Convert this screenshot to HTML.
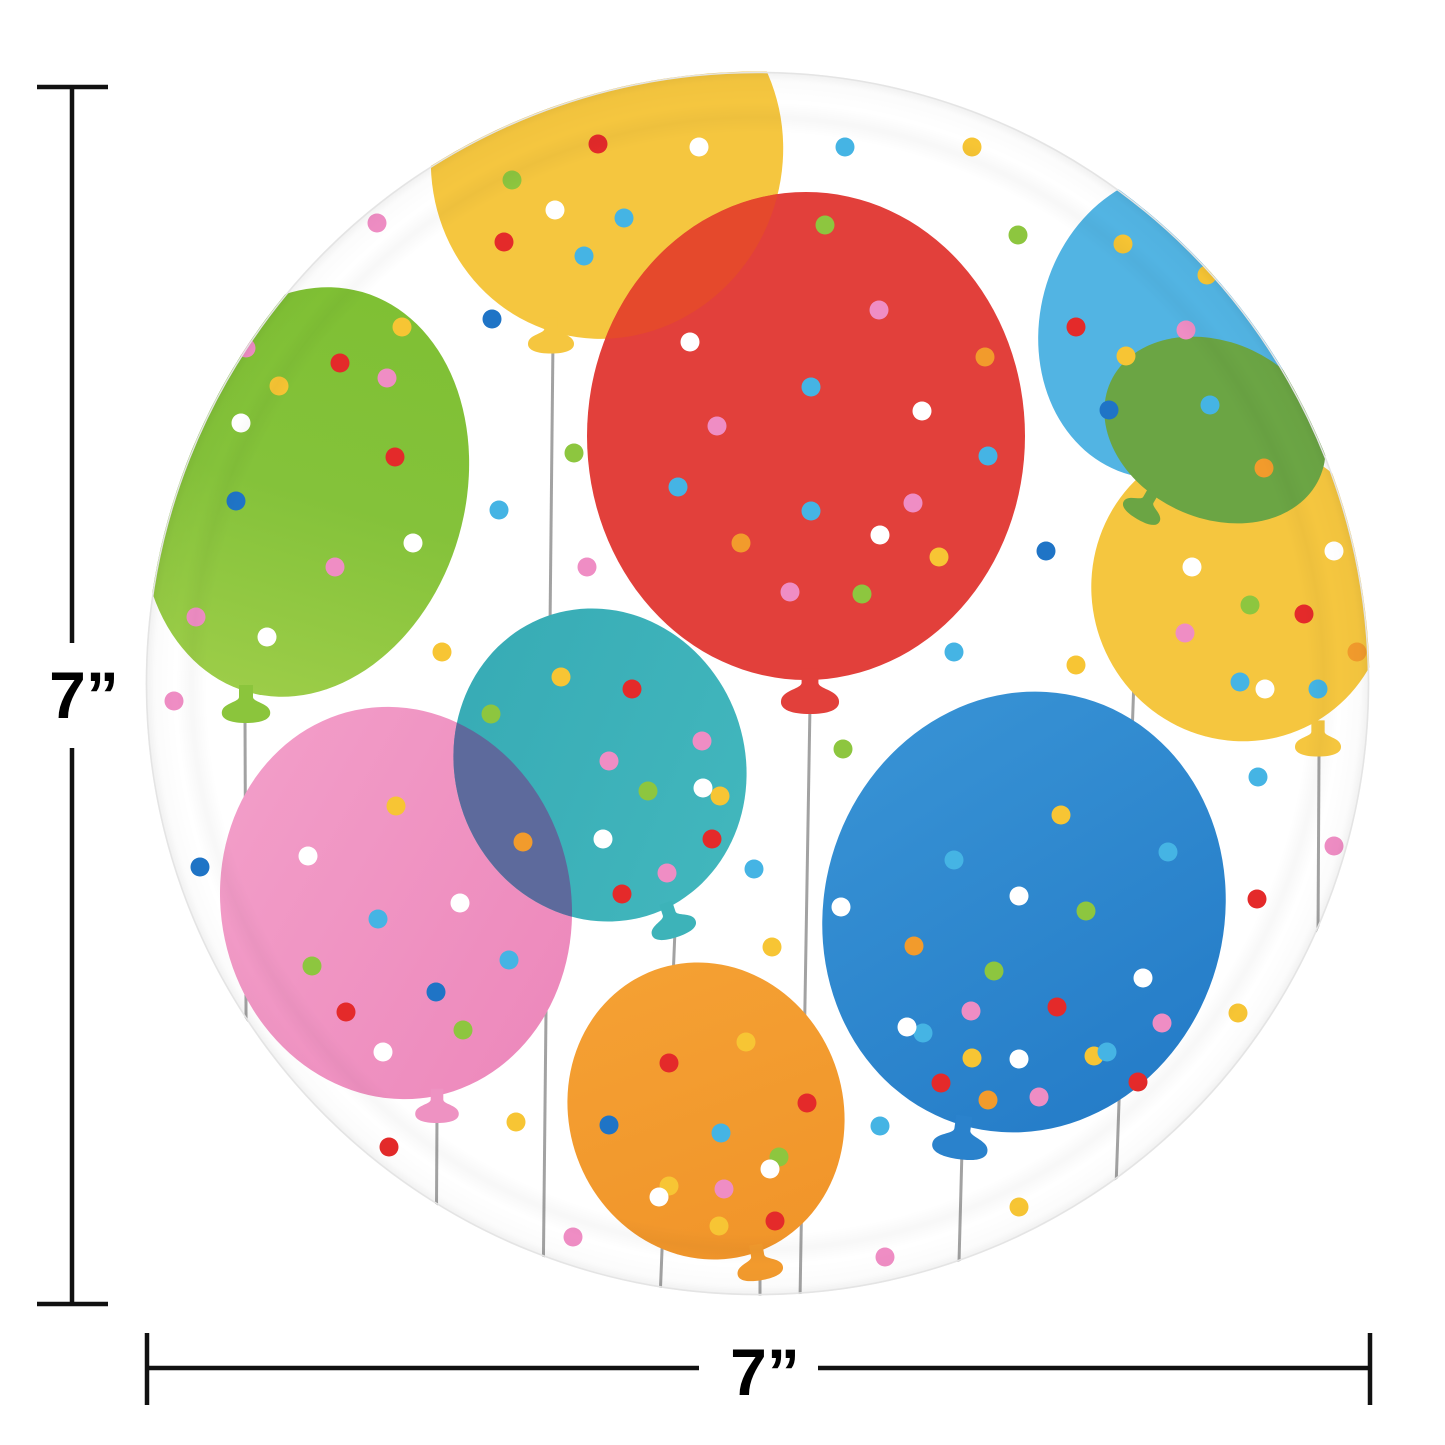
<!DOCTYPE html>
<html><head><meta charset="utf-8"><style>
html,body{margin:0;padding:0;background:#fff;}
svg{display:block;}
</style></head><body>
<svg width="1445" height="1445" viewBox="0 0 1445 1445" xmlns="http://www.w3.org/2000/svg">
<defs>
  <clipPath id="plate"><circle cx="757.5" cy="683.5" r="612"/></clipPath>
  <clipPath id="cY"><ellipse transform="translate(607,155) rotate(20)" rx="175" ry="185"/></clipPath>
  <clipPath id="cT"><ellipse transform="translate(600,765) rotate(-20)" rx="145" ry="158"/></clipPath>
  <path id="K" d="M-7,-8 L7,-8 L7,4 C7,9 22,10 24,18 C26,27 14,30 0,30 C-14,30 -26,27 -24,18 C-22,10 -7,9 -7,4 Z"/>
  <linearGradient id="gGreen" x1="0" y1="0" x2="0" y2="1">
    <stop offset="0" stop-color="#7fc034"/><stop offset="0.5" stop-color="#84c23a"/><stop offset="1" stop-color="#9ccd48"/>
  </linearGradient>
  <linearGradient id="gPink" x1="0" y1="0" x2="1" y2="1">
    <stop offset="0" stop-color="#f3a0ca"/><stop offset="1" stop-color="#ec86ba"/>
  </linearGradient>
  <linearGradient id="gTeal" x1="0" y1="0" x2="1" y2="1">
    <stop offset="0" stop-color="#36aab4"/><stop offset="1" stop-color="#43b8be"/>
  </linearGradient>
  <linearGradient id="gBlue" x1="0" y1="0" x2="1" y2="1">
    <stop offset="0" stop-color="#3a95d6"/><stop offset="1" stop-color="#2279c6"/>
  </linearGradient>
  <linearGradient id="gOrange" x1="0" y1="0" x2="0" y2="1">
    <stop offset="0" stop-color="#f4a033"/><stop offset="1" stop-color="#f1952a"/>
  </linearGradient>
  <radialGradient id="rim" cx="757.5" cy="683.5" r="612" gradientUnits="userSpaceOnUse">
    <stop offset="0" stop-color="#000" stop-opacity="0"/>
    <stop offset="0.9" stop-color="#000" stop-opacity="0"/>
    <stop offset="0.925" stop-color="#000" stop-opacity="0.03"/>
    <stop offset="0.95" stop-color="#000" stop-opacity="0"/>
    <stop offset="0.985" stop-color="#000" stop-opacity="0.015"/>
    <stop offset="1" stop-color="#000" stop-opacity="0.06"/>
  </radialGradient>
</defs>

<!-- Plate -->
<circle cx="757.5" cy="683.5" r="612" fill="#ffffff"/>

<g clip-path="url(#plate)">
  <!-- strings -->
  <g stroke="#a2a2a2" stroke-width="3" fill="none">
    <line x1="553" y1="340" x2="543" y2="1300"/>
    <line x1="245" y1="715" x2="247" y2="1300"/>
    <line x1="437" y1="1115" x2="436" y2="1300"/>
    <line x1="675" y1="930" x2="660" y2="1300"/>
    <line x1="810" y1="705" x2="800" y2="1300"/>
    <line x1="760" y1="1275" x2="760" y2="1300"/>
    <line x1="962" y1="1150" x2="958" y2="1300"/>
    <line x1="1140" y1="510" x2="1112" y2="1300"/>
    <line x1="1319" y1="755" x2="1316" y2="1300"/>
  </g>

  <!-- yellow top -->
  <ellipse transform="translate(607,155) rotate(20)" rx="175" ry="185" fill="#f5c63f"/>
  <use href="#K" transform="translate(551,325) scale(0.95)" fill="#f5c63f"/>
  <!-- red -->
  <ellipse cx="806" cy="436" rx="219" ry="244" fill="#e2403b"/>
  <use href="#K" transform="translate(810,678) scale(1.2)" fill="#e2403b"/>
  <g clip-path="url(#cY)">
    <ellipse cx="806" cy="436" rx="219" ry="244" fill="#e5492c"/>
  </g>
  <!-- light blue top right -->
  <ellipse transform="translate(1170,325) rotate(15)" rx="130" ry="155" fill="#52b4e3"/>
  <!-- yellow right -->
  <ellipse transform="translate(1240,590) rotate(-25)" rx="148" ry="152" fill="#f5c63f"/>
  <use href="#K" transform="translate(1318,728) scale(0.95)" fill="#f5c63f"/>
  <!-- dark green -->
  <ellipse transform="translate(1215,430) rotate(25)" rx="115" ry="88" fill="#6ba544"/>
  <use href="#K" transform="translate(1150,497) rotate(30) scale(0.85)" fill="#6ba544"/>
  <!-- green left -->
  <ellipse transform="translate(305,492) rotate(16)" rx="160" ry="208" fill="url(#gGreen)"/>
  <use href="#K" transform="translate(246,693) scale(1)" fill="#8bc53c"/>
  <!-- pink -->
  <ellipse transform="translate(396,903) rotate(-12)" rx="175" ry="197" fill="url(#gPink)"/>
  <use href="#K" transform="translate(437,1096) scale(0.9)" fill="#ee92c2"/>
  <!-- teal -->
  <ellipse transform="translate(600,765) rotate(-20)" rx="145" ry="158" fill="url(#gTeal)"/>
  <use href="#K" transform="translate(668,910) rotate(-18) scale(0.95)" fill="#3db3b9"/>
  <g clip-path="url(#cT)">
    <ellipse transform="translate(396,903) rotate(-12)" rx="175" ry="197" fill="#5d6a9c"/>
  </g>
  <!-- orange -->
  <ellipse transform="translate(706,1111) rotate(-20)" rx="137" ry="150" fill="url(#gOrange)"/>
  <use href="#K" transform="translate(757,1252) rotate(-10) scale(0.95)" fill="#f29a2d"/>
  <!-- blue -->
  <ellipse transform="translate(1024,912) rotate(16)" rx="200" ry="222" fill="url(#gBlue)"/>
  <use href="#K" transform="translate(963,1125) rotate(8) scale(1.15)" fill="#2a82cc"/>

  <!-- dots -->
  <g>
    <g fill="#e42a2a">
      <circle cx="598" cy="144" r="9.5"/><circle cx="504" cy="242" r="9.5"/>
      <circle cx="1076" cy="327" r="9.5"/><circle cx="1304" cy="614" r="9.5"/>
      <circle cx="340" cy="363" r="9.5"/><circle cx="395" cy="457" r="9.5"/>
      <circle cx="632" cy="689" r="9.5"/><circle cx="712" cy="839" r="9.5"/><circle cx="622" cy="894" r="9.5"/>
      <circle cx="346" cy="1012" r="9.5"/><circle cx="389" cy="1147" r="9.5"/>
      <circle cx="669" cy="1063" r="9.5"/><circle cx="807" cy="1103" r="9.5"/><circle cx="775" cy="1221" r="9.5"/>
      <circle cx="1057" cy="1007" r="9.5"/><circle cx="941" cy="1083" r="9.5"/><circle cx="1138" cy="1082" r="9.5"/>
      <circle cx="1257" cy="899" r="9.5"/>
    </g>
    <g fill="#f7c534">
      <circle cx="972" cy="147" r="9.5"/><circle cx="402" cy="327" r="9.5"/><circle cx="442" cy="652" r="9.5"/>
      <circle cx="1076" cy="665" r="9.5"/><circle cx="772" cy="947" r="9.5"/><circle cx="1238" cy="1013" r="9.5"/>
      <circle cx="516" cy="1122" r="9.5"/><circle cx="1019" cy="1207" r="9.5"/>
      <circle cx="1123" cy="244" r="9.5"/><circle cx="1207" cy="275" r="9.5"/><circle cx="1126" cy="356" r="9.5"/>
      <circle cx="939" cy="557" r="9.5"/><circle cx="279" cy="386" r="9.5"/>
      <circle cx="561" cy="677" r="9.5"/><circle cx="720" cy="796" r="9.5"/>
      <circle cx="396" cy="806" r="9.5"/>
      <circle cx="746" cy="1042" r="9.5"/><circle cx="669" cy="1186" r="9.5"/><circle cx="719" cy="1226" r="9.5"/>
      <circle cx="1061" cy="815" r="9.5"/><circle cx="972" cy="1058" r="9.5"/><circle cx="1094" cy="1056" r="9.5"/>
    </g>
    <g fill="#45b4e4">
      <circle cx="845" cy="147" r="9.5"/><circle cx="499" cy="510" r="9.5"/><circle cx="954" cy="652" r="9.5"/>
      <circle cx="754" cy="869" r="9.5"/><circle cx="1258" cy="777" r="9.5"/><circle cx="880" cy="1126" r="9.5"/>
      <circle cx="624" cy="218" r="9.5"/><circle cx="584" cy="256" r="9.5"/>
      <circle cx="811" cy="387" r="9.5"/><circle cx="988" cy="456" r="9.5"/><circle cx="678" cy="487" r="9.5"/><circle cx="811" cy="511" r="9.5"/>
      <circle cx="1210" cy="405" r="9.5"/>
      <circle cx="1240" cy="682" r="9.5"/><circle cx="1318" cy="689" r="9.5"/>
      <circle cx="378" cy="919" r="9.5"/><circle cx="509" cy="960" r="9.5"/>
      <circle cx="721" cy="1133" r="9.5"/>
      <circle cx="954" cy="860" r="9.5"/><circle cx="1168" cy="852" r="9.5"/><circle cx="923" cy="1033" r="9.5"/><circle cx="1107" cy="1052" r="9.5"/>
    </g>
    <g fill="#ef8dc4">
      <circle cx="377" cy="223" r="9.5"/><circle cx="587" cy="567" r="9.5"/><circle cx="174" cy="701" r="9.5"/>
      <circle cx="1334" cy="846" r="9.5"/><circle cx="573" cy="1237" r="9.5"/><circle cx="885" cy="1257" r="9.5"/>
      <circle cx="879" cy="310" r="9.5"/><circle cx="717" cy="426" r="9.5"/><circle cx="913" cy="503" r="9.5"/><circle cx="790" cy="592" r="9.5"/>
      <circle cx="1186" cy="330" r="9.5"/><circle cx="1185" cy="633" r="9.5"/>
      <circle cx="387" cy="378" r="9.5"/><circle cx="335" cy="567" r="9.5"/><circle cx="196" cy="617" r="9.5"/><circle cx="246" cy="348" r="9.5"/>
      <circle cx="702" cy="741" r="9.5"/><circle cx="609" cy="761" r="9.5"/><circle cx="667" cy="873" r="9.5"/>
      <circle cx="724" cy="1189" r="9.5"/>
      <circle cx="971" cy="1011" r="9.5"/><circle cx="1162" cy="1023" r="9.5"/><circle cx="1039" cy="1097" r="9.5"/>
    </g>
    <g fill="#8dc63f">
      <circle cx="1018" cy="235" r="9.5"/><circle cx="574" cy="453" r="9.5"/><circle cx="843" cy="749" r="9.5"/>
      <circle cx="512" cy="180" r="9.5"/><circle cx="825" cy="225" r="9.5"/><circle cx="862" cy="594" r="9.5"/>
      <circle cx="1250" cy="605" r="9.5"/>
      <circle cx="491" cy="714" r="9.5"/><circle cx="648" cy="791" r="9.5"/>
      <circle cx="312" cy="966" r="9.5"/><circle cx="463" cy="1030" r="9.5"/>
      <circle cx="779" cy="1157" r="9.5"/>
      <circle cx="1086" cy="911" r="9.5"/><circle cx="994" cy="971" r="9.5"/>
    </g>
    <g fill="#ffffff">
      <circle cx="699" cy="147" r="9.5"/><circle cx="555" cy="210" r="9.5"/>
      <circle cx="690" cy="342" r="9.5"/><circle cx="922" cy="411" r="9.5"/><circle cx="880" cy="535" r="9.5"/>
      <circle cx="1334" cy="551" r="9.5"/><circle cx="1192" cy="567" r="9.5"/><circle cx="1265" cy="689" r="9.5"/>
      <circle cx="241" cy="423" r="9.5"/><circle cx="413" cy="543" r="9.5"/><circle cx="267" cy="637" r="9.5"/>
      <circle cx="703" cy="788" r="9.5"/><circle cx="603" cy="839" r="9.5"/>
      <circle cx="308" cy="856" r="9.5"/><circle cx="460" cy="903" r="9.5"/><circle cx="383" cy="1052" r="9.5"/>
      <circle cx="770" cy="1169" r="9.5"/><circle cx="659" cy="1197" r="9.5"/>
      <circle cx="1019" cy="896" r="9.5"/><circle cx="841" cy="907" r="9.5"/><circle cx="1143" cy="978" r="9.5"/>
      <circle cx="907" cy="1027" r="9.5"/><circle cx="1019" cy="1059" r="9.5"/>
    </g>
    <g fill="#f29b2c">
      <circle cx="985" cy="357" r="9.5"/><circle cx="741" cy="543" r="9.5"/>
      <circle cx="1264" cy="468" r="9.5"/><circle cx="1357" cy="652" r="9.5"/>
      <circle cx="523" cy="842" r="9.5"/>
      <circle cx="914" cy="946" r="9.5"/><circle cx="988" cy="1100" r="9.5"/>
    </g>
    <g fill="#1f74c6">
      <circle cx="492" cy="319" r="9.5"/><circle cx="1046" cy="551" r="9.5"/><circle cx="200" cy="867" r="9.5"/>
      <circle cx="1109" cy="410" r="9.5"/><circle cx="236" cy="501" r="9.5"/>
      <circle cx="436" cy="992" r="9.5"/><circle cx="609" cy="1125" r="9.5"/>
    </g>
  </g>

  <!-- rim shading -->
  <circle cx="757.5" cy="683.5" r="612" fill="url(#rim)"/>
</g>
<circle cx="757.5" cy="683.5" r="611" fill="none" stroke="#e4e4e4" stroke-width="1.5"/>

<!-- dimension lines -->
<g stroke="#111" stroke-width="4.5" fill="none">
  <line x1="37" y1="87" x2="108" y2="87"/>
  <line x1="72" y1="87" x2="72" y2="643"/>
  <line x1="72" y1="748" x2="72" y2="1304"/>
  <line x1="37" y1="1304" x2="108" y2="1304"/>
  <line x1="147" y1="1333" x2="147" y2="1405"/>
  <line x1="147" y1="1368" x2="699" y2="1368"/>
  <line x1="818" y1="1368" x2="1370" y2="1368"/>
  <line x1="1370" y1="1333" x2="1370" y2="1405"/>
</g>
<g font-family="'Liberation Sans', Arial, sans-serif" font-weight="bold" font-size="66" fill="#000" text-anchor="middle">
  <text x="84" y="718">7”</text>
  <text x="765" y="1395">7”</text>
</g>
</svg>
</body></html>
